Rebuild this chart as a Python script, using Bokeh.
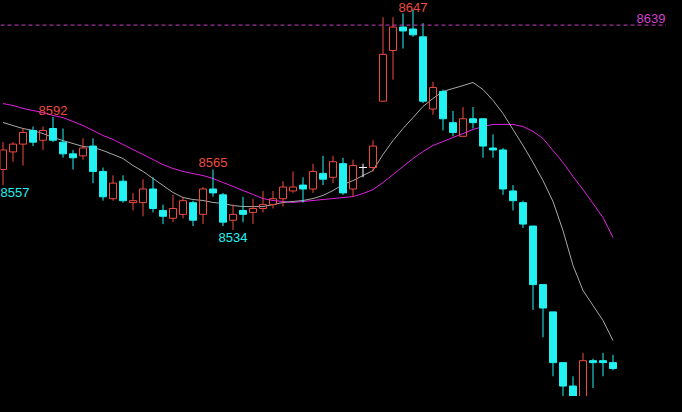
from bokeh.plotting import figure
from bokeh.models import ColumnDataSource, Range1d, Span
from bokeh.core.properties import value
from bokeh.embed import file_html
from bokeh.resources import INLINE

# ---- data ----
idx = list(range(1, 63))
opens = [8565, 8574, 8578, 8585, 8580, 8586, 8579, 8573, 8572, 8577,
         8564, 8550, 8559, 8548, 8548, 8555, 8544, 8540, 8542, 8548,
         8542, 8555, 8552, 8539, 8544, 8543, 8545, 8547, 8550, 8554,
         8557, 8555, 8563, 8561, 8568, 8555, 8566, 8566, 8600, 8626,
         8638, 8637, 8633, 8596, 8605, 8589, 8582, 8591, 8591, 8576,
         8575, 8554, 8548, 8536, 8506, 8492, 8466, 8454, 8446, 8467,
         8467, 8466]
highs = [8579, 8579, 8586, 8587, 8587, 8592, 8586, 8575, 8581, 8581,
         8566, 8562, 8562, 8553, 8560, 8561, 8547, 8552, 8551, 8549,
         8556, 8565, 8553, 8547, 8551, 8550, 8554, 8554, 8559, 8564,
         8561, 8568, 8572, 8572, 8571, 8570, 8568, 8580, 8643, 8643,
         8645, 8647, 8640, 8610, 8606, 8595, 8597, 8597, 8591, 8583,
         8576, 8557, 8549, 8536, 8506, 8492, 8466, 8459, 8471, 8468,
         8471, 8470]
lows = [8557, 8569, 8567, 8577, 8575, 8579, 8571, 8565, 8570, 8558,
        8549, 8549, 8548, 8544, 8541, 8543, 8537, 8538, 8540, 8536,
        8537, 8551, 8536, 8534, 8538, 8537, 8543, 8545, 8546, 8553,
        8548, 8553, 8557, 8558, 8552, 8551, 8561, 8564, 8600, 8611,
        8627, 8633, 8599, 8593, 8585, 8582, 8582, 8586, 8571, 8571,
        8552, 8544, 8535, 8493, 8479, 8459, 8442, 8441, 8442, 8453,
        8459, 8462]
closes = [8575, 8578, 8584, 8579, 8585, 8580, 8573, 8571, 8576, 8564,
          8551, 8558, 8549, 8549, 8555, 8545, 8541, 8545, 8549, 8539,
          8555, 8553, 8538, 8542, 8542, 8545, 8547, 8550, 8556, 8556,
          8555, 8564, 8560, 8569, 8553, 8567, 8566, 8577, 8624, 8638,
          8636, 8634, 8600, 8607, 8591, 8584, 8591, 8589, 8577, 8575,
          8555, 8549, 8537, 8506, 8494, 8466, 8454, 8446, 8467, 8466,
          8466, 8463]
ma10 = [8589.1, 8587.5, 8586.0, 8585.0, 8583.4, 8581.4, 8579.8, 8578.3, 8576.8, 8576.3,
        8574.7, 8572.7, 8570.6, 8567.0, 8564.0, 8560.4, 8556.8, 8553.2, 8550.6, 8549.6,
        8549.1, 8548.1, 8547.6, 8546.5, 8546.0, 8546.0, 8546.0, 8547.0, 8548.1, 8548.6,
        8549.1, 8550.1, 8551.7, 8554.2, 8557.3, 8559.3, 8561.9, 8564.5, 8572.7, 8579.8,
        8586.0, 8591.6, 8597.3, 8601.4, 8605.0, 8606.5, 8608.0, 8609.6, 8606.0, 8600.4,
        8593.7, 8585.5, 8577.3, 8568.6, 8559.3, 8548.6, 8533.7, 8515.8, 8503.0, 8495.3,
        8487.6, 8477.3]
ma20 = [8598.8, 8597.8, 8596.3, 8595.2, 8594.2, 8592.7, 8591.6, 8589.6, 8587.5, 8585.0,
        8582.4, 8580.4, 8577.8, 8575.2, 8572.7, 8570.1, 8567.5, 8565.5, 8564.0, 8562.9,
        8561.9, 8560.4, 8558.3, 8556.3, 8554.2, 8552.2, 8550.1, 8549.1, 8548.6, 8548.1,
        8548.6, 8549.1, 8549.6, 8550.1, 8550.6, 8551.1, 8552.7, 8554.7, 8558.3, 8562.4,
        8566.5, 8570.6, 8574.2, 8577.3, 8579.3, 8581.4, 8583.4, 8585.5, 8587.0, 8588.1,
        8588.1, 8588.1, 8587.0, 8584.5, 8580.9, 8574.7, 8568.6, 8561.4, 8554.7, 8547.6,
        8540.4, 8530.1]
ref_level = 8639
ref_label = "8639"
high_marks = [6, 22, 42]
low_marks = [1, 24]

# ---- styles ----
UP = "#ee4a3e"
DOWN = "#22f2f2"
DOJI = "#ffffff"
MA10_C = "#a8a8a8"
MA20_C = "#e020e0"
FONT = value("Liberation Sans")
FS = value("13px")

x_lo, x_hi = 0.75, 67.35
y_lo, y_hi = 8448.64, 8651.61

p = figure(width=666, height=396, output_backend="svg", toolbar_location=None,
           x_range=Range1d(x_lo, x_hi), y_range=Range1d(y_lo, y_hi),
           background_fill_color="black", border_fill_color="black",
           min_border=0, x_axis_location=None, y_axis_location=None,
           outline_line_color=None)
p.grid.visible = False

# moving averages
p.line(idx, ma20, line_color=MA20_C, line_width=1)
p.line(idx, ma10, line_color=MA10_C, line_width=1)

# dashed reference level
p.add_layout(Span(location=ref_level, dimension="width", line_color="#c83cc8",
                  line_dash="4 3", line_width=1))
p.text(x=[x_hi], y=[ref_level], text=[ref_label], text_color="#d040d0",
       text_font=FONT, text_font_size=FS, text_baseline="bottom",
       text_align="right", x_offset=-1, y_offset=-2)

# candles
def colour(o, c):
    return UP if c > o else (DOWN if c < o else DOJI)

cols = [colour(o, c) for o, c in zip(opens, closes)]
tops = [max(o, c) for o, c in zip(opens, closes)]
bots = [min(o, c) for o, c in zip(opens, closes)]

wick = ColumnDataSource(dict(x=idx, h=highs, l=lows, t=tops, b=bots, c=cols))
p.segment(x0="x", y0="t", x1="x", y1="h", line_color="c", line_width=1, source=wick)
p.segment(x0="x", y0="l", x1="x", y1="b", line_color="c", line_width=1, source=wick)

up_i = [i for i in range(len(idx)) if closes[i] > opens[i]]
dn_i = [i for i in range(len(idx)) if closes[i] < opens[i]]
dj_i = [i for i in range(len(idx)) if closes[i] == opens[i]]

p.vbar(x=[idx[i] for i in up_i], top=[tops[i] for i in up_i], bottom=[bots[i] for i in up_i],
       width=0.7, fill_color=None, line_color=UP, line_width=1)
p.vbar(x=[idx[i] for i in dn_i], top=[tops[i] for i in dn_i], bottom=[bots[i] for i in dn_i],
       width=0.7, fill_color=DOWN, line_color=DOWN, line_width=1)
p.segment(x0=[idx[i] - 0.4 for i in dj_i], y0=[opens[i] for i in dj_i],
          x1=[idx[i] + 0.4 for i in dj_i], y1=[opens[i] for i in dj_i],
          line_color=DOJI, line_width=1)

# high marks (the top one is kept inside the frame)
hx = [idx[k - 1] for k in high_marks]
hy = [min(highs[k - 1], y_hi) for k in high_marks]
ht = [str(highs[k - 1]) for k in high_marks]
top_mark = [highs[k - 1] for k in high_marks].index(max(highs[k - 1] for k in high_marks))
p.text(x=[hx[i] for i in range(len(hx)) if i != top_mark],
       y=[hy[i] for i in range(len(hx)) if i != top_mark],
       text=[ht[i] for i in range(len(hx)) if i != top_mark], text_color=UP, text_font=FONT,
       text_font_size=FS, text_align="center", text_baseline="bottom", y_offset=-2)
p.text(x=[hx[top_mark]], y=[y_hi], text=[ht[top_mark]], text_color=UP, text_font=FONT,
       text_font_size=FS, text_align="center", text_baseline="top", y_offset=2)

# low marks (the first one is kept inside the left edge)
lx = [idx[k - 1] for k in low_marks]
ly = [lows[k - 1] for k in low_marks]
lt = [str(lows[k - 1]) for k in low_marks]
p.text(x=[x_lo], y=[ly[0]], text=[lt[0]], text_color=DOWN, text_font=FONT,
       text_font_size=FS, text_align="left", text_baseline="top", y_offset=3)
p.text(x=lx[1:], y=ly[1:], text=lt[1:], text_color=DOWN, text_font=FONT,
       text_font_size=FS, text_align="center", text_baseline="top", y_offset=3)

html = file_html(p, INLINE)
html = html.replace("</head>", "<style>html,body{background-color:#000000;}</style></head>", 1)
open("out.html", "w").write(html)
